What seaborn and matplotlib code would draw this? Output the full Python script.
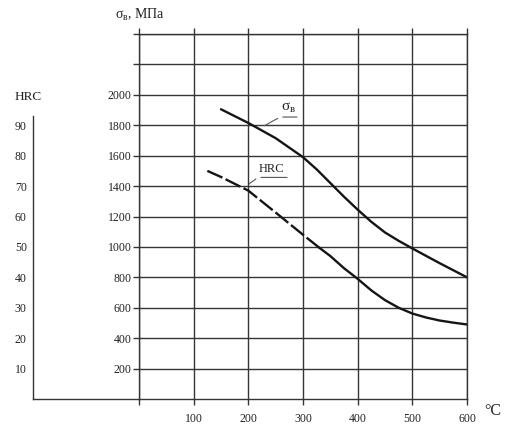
import matplotlib
matplotlib.use("Agg")
import matplotlib.pyplot as plt
import seaborn as sns
import pandas as pd

# ---- data ----
temp_sigma = [150, 200, 250, 300, 325, 350, 375, 400, 425, 450, 475, 500, 550, 600]
sigma_b = [1905, 1815, 1715, 1590, 1510, 1420, 1330, 1245, 1165, 1095, 1040, 990, 893, 800]

temp_hrc_dashed = [125, 150, 200, 250, 300, 330]
hrc_dashed = [75, 73, 68.5, 61.3, 54, 49.7]
temp_hrc_solid = [330, 350, 375, 400, 425, 450, 475, 500, 525, 550, 575, 600]
hrc_solid = [49.7, 47, 43, 39.5, 35.7, 32.5, 30.0, 28.1, 26.8, 25.8, 25.1, 24.5]

x_ticks = [100, 200, 300, 400, 500, 600]
sigma_ticks = [200, 400, 600, 800, 1000, 1200, 1400, 1600, 1800, 2000, 2200, 2400]
sigma_labels = ["200", "400", "600", "800", "1000", "1200", "1400", "1600", "1800", "2000", "", ""]
hrc_ticks = [10, 20, 30, 40, 50, 60, 70, 80, 90]

sns.set_theme(style="white")
plt.rcParams["font.family"] = ["Liberation Serif", "DejaVu Serif"]
plt.rcParams["mathtext.fontset"] = "custom"
plt.rcParams["mathtext.rm"] = "Liberation Serif"
plt.rcParams["mathtext.it"] = "Liberation Serif"

W, H = 508, 425
fig = plt.figure(figsize=(W / 100, H / 100), dpi=100)
fig.patch.set_facecolor("white")

gc = "#353535"
tc = "#222222"

# main grid axes
ax = fig.add_axes([139 / W, 26 / H, 328 / W, 365 / H])
ax.set_facecolor("white")
ax.set_xlim(0, 600)
ax.set_ylim(0, 2400)
ax.set_xticks([0] + x_ticks)
ax.set_xticklabels([""] + [str(v) for v in x_ticks])
ax.set_yticks(sigma_ticks)
ax.set_yticklabels(sigma_labels)
ax.tick_params(axis="both", which="both", direction="out", length=4, width=1.0,
               color=gc, labelsize=8.5, labelcolor=tc, pad=1.5,
               top=True, bottom=True, left=True, right=False)
ax.tick_params(axis="x", pad=6)
ax.grid(True, color=gc, linewidth=1.0)
for s in ax.spines.values():
    s.set_color(gc)
    s.set_linewidth(1.0)
    s.set_visible(True)

# HRC scale shares x with main axes
ax2 = ax.twinx()
ax2.set_ylim(0, 120)
ax2.axis("off")

df_s = pd.DataFrame({"T": temp_sigma, "v": sigma_b})
sns.lineplot(data=df_s, x="T", y="v", ax=ax, color="#151515", linewidth=1.7)

df_hd = pd.DataFrame({"T": temp_hrc_dashed, "v": hrc_dashed})
df_hs = pd.DataFrame({"T": temp_hrc_solid, "v": hrc_solid})
sns.lineplot(data=df_hd, x="T", y="v", ax=ax2, color="#151515", linewidth=1.7,
             linestyle=(0, (7, 1.5)))
sns.lineplot(data=df_hs, x="T", y="v", ax=ax2, color="#151515", linewidth=1.7)
ax.set_xlabel("")
ax.set_ylabel("")
ax2.set_xlabel("")
ax2.set_ylabel("")

# curve labels with leader lines and underline
ax.annotate("", xy=(225, 1788), xytext=(258, 1854),
            arrowprops=dict(arrowstyle="-", color="#555555", lw=0.8))
ax.annotate("", xy=(258, 1854), xytext=(294, 1854),
            arrowprops=dict(arrowstyle="-", color="#555555", lw=0.8))
ax.text(260, 1866, r"σ$_{\mathrm{в}}$", fontsize=11, color=tc, ha="left", va="bottom")

ax.annotate("", xy=(197, 1404), xytext=(218, 1457),
            arrowprops=dict(arrowstyle="-", color="#555555", lw=0.8))
ax.annotate("", xy=(218, 1457), xytext=(276, 1457),
            arrowprops=dict(arrowstyle="-", color="#555555", lw=0.8))
ax.text(219, 1470, "HRC", fontsize=9, color=tc, ha="left", va="bottom")

# HRC axis on the left
axh = fig.add_axes([33 / W, 26 / H, (139 - 33) / W, 365 / H])
axh.patch.set_alpha(0)
axh.set_xlim(0, 1)
axh.set_ylim(0, 120)
axh.set_xticks([])
axh.set_yticks(hrc_ticks)
axh.set_yticklabels([str(v) for v in hrc_ticks])
axh.tick_params(axis="y", direction="inout", length=5, width=1.0, color=gc,
                labelsize=8.5, labelcolor=tc, pad=2)
for k in ["top", "right"]:
    axh.spines[k].set_visible(False)
axh.spines["left"].set_bounds(0, 93)
axh.spines["left"].set_color(gc)
axh.spines["bottom"].set_color(gc)
axh.spines["left"].set_linewidth(1.0)
axh.spines["bottom"].set_linewidth(1.0)

fig.text(28 / W, 1 - 97 / H, "HRC", fontsize=9.5, color=tc, ha="center", va="center")
fig.text(115 / W, 1 - 15 / H, r"σ$_{\mathrm{в}}$, МПа", fontsize=10, color=tc,
         ha="left", va="center")
fig.text(484 / W, 1 - 411 / H, "°C", fontsize=11.5, color=tc, ha="left", va="center")

fig.savefig("out.png", dpi=100, facecolor="white")
